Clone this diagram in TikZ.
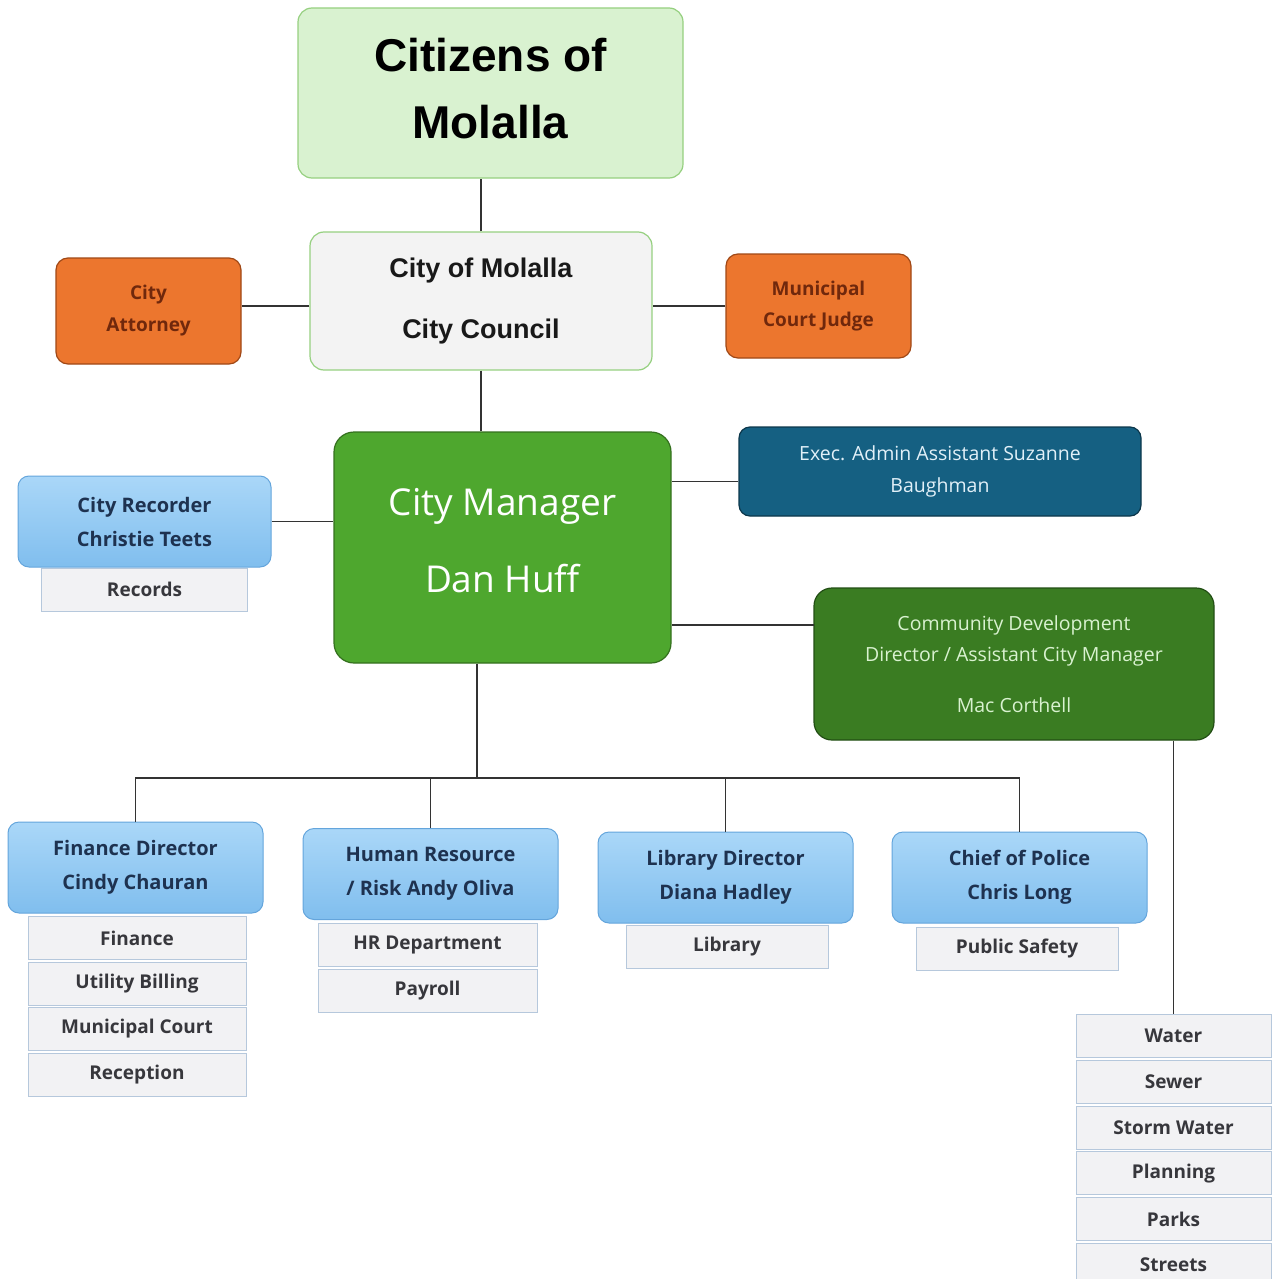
\documentclass[tikz,border=0pt]{standalone}
\usepackage{fontspec}
\setmainfont{Open Sans}
\newfontfamily\arialfont{Liberation Sans}
\usetikzlibrary{positioning}

\definecolor{citizenfill}{RGB}{217,242,208}
\definecolor{citizenline}{RGB}{150,208,128}
\definecolor{councilfill}{RGB}{243,243,243}
\definecolor{orangefill}{RGB}{236,118,46}
\definecolor{orangeline}{RGB}{160,72,22}
\definecolor{orangetext}{RGB}{112,40,12}
\definecolor{mgrfill}{RGB}{78,167,46}
\definecolor{mgrline}{RGB}{52,112,30}
\definecolor{cdfill}{RGB}{58,124,34}
\definecolor{cdline}{RGB}{34,78,20}
\definecolor{cdtext}{RGB}{217,242,208}
\definecolor{execfill}{RGB}{21,96,130}
\definecolor{execline}{RGB}{12,55,75}
\definecolor{exectext}{RGB}{225,240,248}
\definecolor{bluetop}{RGB}{170,215,248}
\definecolor{bluebot}{RGB}{128,190,238}
\definecolor{blueline}{RGB}{100,165,220}
\definecolor{bluetext}{RGB}{30,50,80}
\definecolor{subfill}{RGB}{242,242,244}
\definecolor{subline}{RGB}{182,200,220}
\definecolor{subtext}{RGB}{55,55,60}

\tikzset{
  headbox/.style={draw, rounded corners=14pt, line width=1.2pt, align=center, inner sep=0pt},
  chiefbox/.style={draw=blueline, top color=bluetop, bottom color=bluebot, rounded corners=11pt,
    line width=1pt, minimum width=255pt, minimum height=91pt, inner sep=0pt, text=bluetext,
    font=\bfseries\fontsize{20}{34}\selectfont, align=center},
  unitbox/.style={draw=subline, fill=subfill, line width=1pt, text=subtext, inner sep=0pt,
    font=\bfseries\fontsize{19}{22}\selectfont, minimum height=43pt},
  link/.style={draw=black!80, line width=1.5pt},
}

\begin{document}
\begin{tikzpicture}[x=1pt,y=1pt,yscale=-1,xscale=1]
\useasboundingbox (0,0) rectangle (1272,1279);

%Top boxes
\node [headbox, draw=citizenline, fill=citizenfill, minimum width=385pt, minimum height=170pt,
  font=\arialfont\bfseries\fontsize{46}{67}\selectfont] (citizens) at (490.5,93) {Citizens of\\Molalla\rule[-10pt]{0pt}{1pt}};
\node [headbox, draw=citizenline, fill=councilfill, minimum width=342pt, minimum height=138pt,
  font=\arialfont\bfseries\fontsize{27}{61}\selectfont, text=black!90] (council) at (481,301) {City of Molalla\\City Council};
\node [headbox, draw=orangeline, fill=orangefill, rounded corners=12pt, minimum width=185pt, minimum height=106pt,
  text=orangetext, font=\bfseries\fontsize{19}{32}\selectfont] (attorney) at (148.5,311) {City\\Attorney};
\node [headbox, draw=orangeline, fill=orangefill, rounded corners=12pt, minimum width=185pt, minimum height=104pt,
  text=orangetext, font=\bfseries\fontsize{19}{31}\selectfont] (judge) at (818.5,306) {Municipal\\Court Judge};

%Manager and staff
\node [headbox, draw=mgrline, fill=mgrfill, rounded corners=20pt, minimum width=337pt, minimum height=231pt,
  text=white, font=\fontsize{37}{77}\selectfont] (manager) at (502.5,547.5) {City Manager\\Dan Huff\rule[-15pt]{0pt}{1pt}};
\node [headbox, draw=execline, fill=execfill, rounded corners=11pt, minimum width=402pt, minimum height=89pt,
  text=exectext, font=\fontsize{19.5}{32}\selectfont] (exec) at (940,471.5) {Exec. Admin Assistant Suzanne\\Baughman};
\node [headbox, draw=cdline, fill=cdfill, rounded corners=18pt, minimum width=400pt, minimum height=152pt,
  text=cdtext, font=\fontsize{19.5}{31}\selectfont] (commdev) at (1014,664)
  {Community Development\\Director / Assistant City Manager\\[20pt]Mac Corthell};
\node [chiefbox, minimum width=253pt] (recorder) at (144.5,521.5) {City Recorder\\Christie Teets};
\node [unitbox, minimum width=206pt, below=0pt of recorder] (records) {Records};

%Department heads
\node [chiefbox] (finance) at (135.5,867.5) {Finance Director\\Cindy Chauran};
\node [chiefbox] (hr) at (430.5,874) {Human Resource\\/ Risk Andy Oliva};
\node [chiefbox] (library) at (725.5,877.5) {Library Director\\Diana Hadley};
\node [chiefbox] (police) at (1019.5,877.5) {Chief of Police\\Chris Long};

%Units
\node [unitbox, minimum width=218pt, anchor=north] (fin1) at (137,916) {Finance};
\node [unitbox, minimum width=218pt, below=1.5pt of fin1] (fin2) {Utility Billing};
\node [unitbox, minimum width=218pt, below=1.5pt of fin2] (fin3) {Municipal Court};
\node [unitbox, minimum width=218pt, below=1.5pt of fin3] (fin4) {Reception};
\node [unitbox, minimum width=219pt, anchor=north] (hr1) at (427.5,923) {HR Department};
\node [unitbox, minimum width=219pt, below=1.5pt of hr1] (hr2) {Payroll};
\node [unitbox, minimum width=202pt, anchor=north] (lib1) at (727,925) {Library};
\node [unitbox, minimum width=202pt, anchor=north] (pol1) at (1017,927) {Public Safety};
\node [unitbox, minimum width=195pt, anchor=north] (pw1) at (1173.5,1014) {Water};
\node [unitbox, minimum width=195pt, below=1.8pt of pw1] (pw2) {Sewer};
\node [unitbox, minimum width=195pt, below=1.8pt of pw2] (pw3) {Storm Water};
\node [unitbox, minimum width=195pt, below=1.8pt of pw3] (pw4) {Planning};
\node [unitbox, minimum width=195pt, below=1.8pt of pw4] (pw5) {Parks};
\node [unitbox, minimum width=195pt, below=1.8pt of pw5] (pw6) {Streets};

%Connectors
\coordinate (bus) at (477,778);
\coordinate (cdin) at (814,625);
\draw [link] (council.north) -- (council.north |- citizens.south);
\draw [link] ([yshift=5pt]council.west) -- ([yshift=5pt]council.west -| attorney.east);
\draw [link] (judge.west) -- (judge.west -| council.east);
\draw [link] (council.south) -- (council.south |- manager.north);
\draw [link] ([yshift=10pt]exec.west) -- ([yshift=10pt]exec.west -| manager.east);
\draw [link] (recorder.east) -- (recorder.east -| manager.west);
\draw [link] (cdin) -- (cdin -| manager.east);
\draw [link] (pw1.north) -- (pw1.north |- commdev.south);
\draw [link] (bus |- manager.south) -- (bus);
\draw [link] (finance.north) -- (finance.north |- bus) -- (police.north |- bus) -- (police.north);
\draw [link] (hr.north) -- (hr.north |- bus);
\draw [link] (library.north) -- (library.north |- bus);
\end{tikzpicture}
\end{document}
